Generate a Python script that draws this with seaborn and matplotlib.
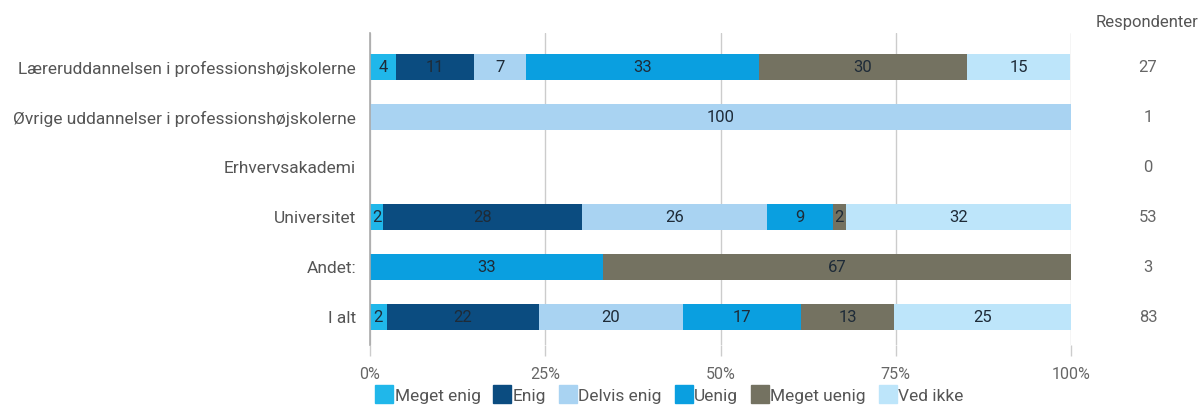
import matplotlib
matplotlib.use("Agg")
import matplotlib.pyplot as plt
import seaborn as sns
import pandas as pd
import numpy as np
from matplotlib.lines import Line2D
from matplotlib.transforms import blended_transform_factory

categories = [
    "Læreruddannelsen i professionshøjskolerne",
    "Øvrige uddannelser i professionshøjskolerne",
    "Erhvervsakademi",
    "Universitet",
    "Andet:",
    "I alt",
]
series = ["Meget enig", "Enig", "Delvis enig", "Uenig", "Meget uenig", "Ved ikke"]
meget_enig = [3.7, 0, 0, 1.9, 0, 2.4]
enig = [11.1, 0, 0, 28.3, 0, 21.7]
delvis_enig = [7.4, 100, 0, 26.4, 0, 20.5]
uenig = [33.3, 0, 0, 9.4, 33.3, 16.9]
meget_uenig = [29.6, 0, 0, 1.9, 66.7, 13.3]
ved_ikke = [14.8, 0, 0, 32.1, 0, 25.3]
respondenter = [27, 1, 0, 53, 3, 83]
xticks = [0, 25, 50, 75, 100]
xticklabels = ["0%", "25%", "50%", "75%", "100%"]

colors = ["#20b7ea", "#0b4c80", "#a9d3f2", "#0a9fe0", "#747261", "#bde5fa"]

sns.set_theme(style="white")
plt.rcParams["font.family"] = ["Roboto", "DejaVu Sans"]

values = np.array([meget_enig, enig, delvis_enig, uenig, meget_uenig, ved_ikke])
cum = np.cumsum(values, axis=0)

fig = plt.figure(figsize=(12.03, 4.05), dpi=100)
ax = fig.add_axes([370 / 1203, 1 - 345 / 405, (1071 - 370) / 1203, (345 - 33) / 405])

for i in range(len(series) - 1, -1, -1):
    df = pd.DataFrame({"cat": categories, "val": cum[i]})
    sns.barplot(data=df, y="cat", x="val", orient="h", color=colors[i],
                saturation=1, width=0.52, ax=ax, linewidth=0, order=categories)

text_col = "#1e2b38"
for r in range(len(categories)):
    for i in range(len(series)):
        v = values[i, r]
        if v <= 0:
            continue
        left = cum[i, r] - v
        ax.text(left + v / 2, r, f"{v:.0f}", ha="center", va="center",
                fontsize=12, color=text_col)

ax.set_xlim(0, 100)
ax.set_ylim(5.56, -0.68)
ax.set_xticks(xticks)
ax.set_xticklabels(xticklabels, color="#666666", fontsize=11.5)
ax.set_xlabel("")
ax.set_ylabel("")
ax.tick_params(axis="y", length=0, pad=10, labelsize=12.5, labelcolor="#555555")
ax.tick_params(axis="x", length=8, color="#cccccc", width=1, pad=8, direction="out", bottom=True)
ax.grid(axis="x", color="#cccccc", linewidth=1)
ax.set_axisbelow(True)
for s in ["top", "right", "bottom"]:
    ax.spines[s].set_visible(False)
ax.spines["left"].set_color("#aaaaaa")
ax.spines["left"].set_linewidth(1.2)

# Respondenter column
fig.text(1147 / 1203, 1 - 22 / 405, "Respondenter", ha="center", va="center",
         fontsize=12, color="#555555")
tr = blended_transform_factory(fig.transFigure, ax.transData)
for r, n in enumerate(respondenter):
    ax.text(1148 / 1203, r, str(n), transform=tr,
            ha="center", va="center", fontsize=12, color="#666666")

handles = [Line2D([0], [0], marker="s", linestyle="", markersize=13,
                  markerfacecolor=c, markeredgecolor=c) for c in colors]
fig.legend(handles, series, loc="center", bbox_to_anchor=(670 / 1203, 1 - 396 / 405),
           ncol=6, frameon=False, fontsize=12.5, handletextpad=0.15, columnspacing=0.8,
           labelcolor="#555555", handlelength=0.9)

fig.savefig("out.png", dpi=100)
